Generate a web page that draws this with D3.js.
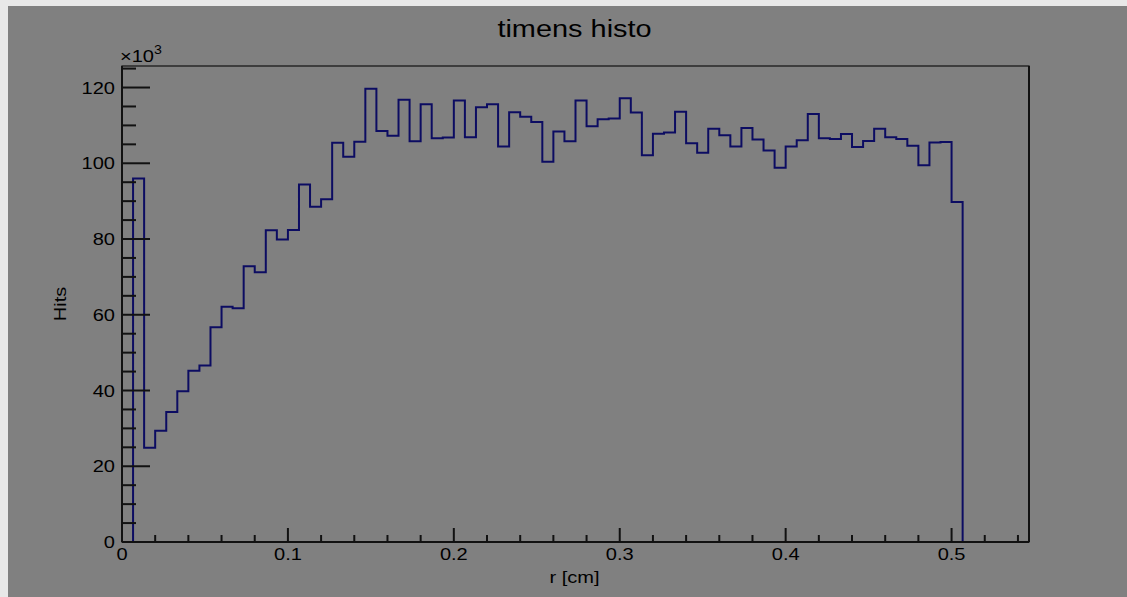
<!DOCTYPE html>
<html>
<head>
<meta charset="utf-8">
<script src="https://cdn.jsdelivr.net/npm/d3@7"></script>
<style>
  html, body { margin: 0; padding: 0; background: #e8e8e8; }
  svg { display: block; }
  text { font-family: "Liberation Sans", Arial, Helvetica, sans-serif; fill: #000; }
</style>
</head>
<body>
<svg id="chart" width="1127" height="597"></svg>
<script>
// Histogram definition: fixed-width bins starting at r = 0
const binCount = 82;
const binWidth = 1 / 150;           // cm
// Hits per bin (bins 0..75); remaining bins are empty
const hits = [
  0, 96000, 24900, 29400, 34300, 39800, 45200, 46600, 56700, 62100,
  61700, 72800, 71200, 82300, 79900, 82400, 94400, 88500, 90500, 105400,
  101700, 105700, 119700, 108500, 107300, 116800, 105800, 115600, 106600, 106800,
  116600, 106900, 114800, 115600, 104400, 113500, 112300, 110900, 100400, 108400,
  105800, 116600, 109800, 111600, 111800, 117200, 113400, 102100, 107800, 108100,
  113600, 105300, 102800, 109100, 107400, 104400, 109300, 106300, 103400, 98800,
  104400, 106100, 113000, 106600, 106400, 107700, 104300, 105900, 109100, 106900,
  106400, 104600, 99500, 105500, 105600, 89800
];
const xTickLabels = ["0", "0.1", "0.2", "0.3", "0.4", "0.5"];
const yTickLabels = ["0", "20", "40", "60", "80", "100", "120"];
const title = "timens histo";
const xTitle = "r [cm]";
const yTitle = "Hits";

const svg = d3.select("#chart");
const W = 1127, H = 597;
const frame = { left: 122, right: 1029, top: 66, bottom: 542 };
const sx = 1.18; // horizontal text stretch

// pad background
svg.append("rect").attr("x", 8).attr("y", 6).attr("width", W - 8).attr("height", H - 6).attr("fill", "#808080");

const bins = d3.range(binCount).map(i => ({
  lo: i * binWidth,
  hi: (i + 1) * binWidth,
  v: i < hits.length ? hits[i] : 0
}));

const x = d3.scaleLinear().domain([0, binCount * binWidth]).range([frame.left, frame.right]);
const yMax = d3.max(hits) * 1.05;
const y = d3.scaleLinear().domain([0, yMax]).range([frame.bottom, frame.top]);

// frame box
svg.append("rect")
  .attr("x", frame.left).attr("y", frame.top)
  .attr("width", frame.right - frame.left).attr("height", frame.bottom - frame.top)
  .attr("fill", "none").attr("stroke", "#111").attr("stroke-width", 1.2);
svg.append("line")
  .attr("x1", frame.right).attr("x2", frame.right)
  .attr("y1", frame.top).attr("y2", frame.bottom)
  .attr("stroke", "#111").attr("stroke-width", 2);

// histogram outline
const pts = [];
bins.forEach(b => { pts.push([b.lo, b.v]); pts.push([b.hi, b.v]); });
const line = d3.line().x(d => x(d[0])).y(d => y(d[1]));
svg.append("path")
  .attr("d", line(pts))
  .attr("fill", "none")
  .attr("stroke", "#0c0c62")
  .attr("stroke-width", 2)
  .attr("stroke-linejoin", "miter");

// x axis: major every 0.1, minor every 0.02, ticks pointing into the frame
const xAxis = svg.append("g");
xAxis.append("line")
  .attr("x1", frame.left).attr("x2", frame.right)
  .attr("y1", frame.bottom).attr("y2", frame.bottom)
  .attr("stroke", "#111").attr("stroke-width", 2);
const xMinor = d3.range(0, 28).map(i => i * 0.02).filter(v => x(v) <= frame.right);
xAxis.selectAll("line.minor").data(xMinor).join("line")
  .attr("class", "minor")
  .attr("x1", d => x(d)).attr("x2", d => x(d))
  .attr("y1", frame.bottom).attr("y2", (d, i) => frame.bottom - (i % 5 === 0 ? 14 : 7))
  .attr("stroke", "#111").attr("stroke-width", 2);
xAxis.selectAll("text").data(xTickLabels).join("text")
  .attr("transform", d => `translate(${x(+d)},${frame.bottom + 18}) scale(${sx},1)`)
  .attr("text-anchor", "middle")
  .attr("font-size", 17)
  .text(d => d);

// y axis: major every 20k, minor every 5k
const yAxis = svg.append("g");
yAxis.append("line")
  .attr("x1", frame.left).attr("x2", frame.left)
  .attr("y1", frame.top).attr("y2", frame.bottom)
  .attr("stroke", "#111").attr("stroke-width", 2);
const yMinor = d3.range(0, 26).map(i => i * 5000).filter(v => v <= yMax);
yAxis.selectAll("line.minor").data(yMinor).join("line")
  .attr("class", "minor")
  .attr("y1", d => y(d)).attr("y2", d => y(d))
  .attr("x1", frame.left).attr("x2", (d, i) => frame.left + (i % 4 === 0 ? 28 : 14))
  .attr("stroke", "#111").attr("stroke-width", 2);
yAxis.selectAll("text").data(yTickLabels).join("text")
  .attr("transform", d => `translate(${frame.left - 7},${y(+d * 1000) + 6}) scale(${sx},1)`)
  .attr("text-anchor", "end")
  .attr("font-size", 17)
  .text(d => d);

// exponent label
const expo = svg.append("text")
  .attr("transform", `translate(${frame.left - 2},${frame.top - 4}) scale(${sx},1)`)
  .attr("font-size", 17);
expo.append("tspan").text("\u00d710");
expo.append("tspan").attr("dy", -8).attr("font-size", 12).text("3");

// titles
svg.append("text")
  .attr("transform", `translate(${(frame.left + frame.right) / 2 - 1},37) scale(${sx},1)`)
  .attr("text-anchor", "middle")
  .attr("font-size", 24.5)
  .text(title);
svg.append("text")
  .attr("transform", `translate(${(frame.left + frame.right) / 2 - 1},${frame.bottom + 41}) scale(${sx},1)`)
  .attr("text-anchor", "middle")
  .attr("font-size", 17)
  .text(xTitle);
svg.append("text")
  .attr("transform", `translate(66,${(frame.top + frame.bottom) / 2}) rotate(-90) scale(${sx},1)`)
  .attr("text-anchor", "middle")
  .attr("font-size", 17)
  .text(yTitle);
</script>
</body>
</html>
